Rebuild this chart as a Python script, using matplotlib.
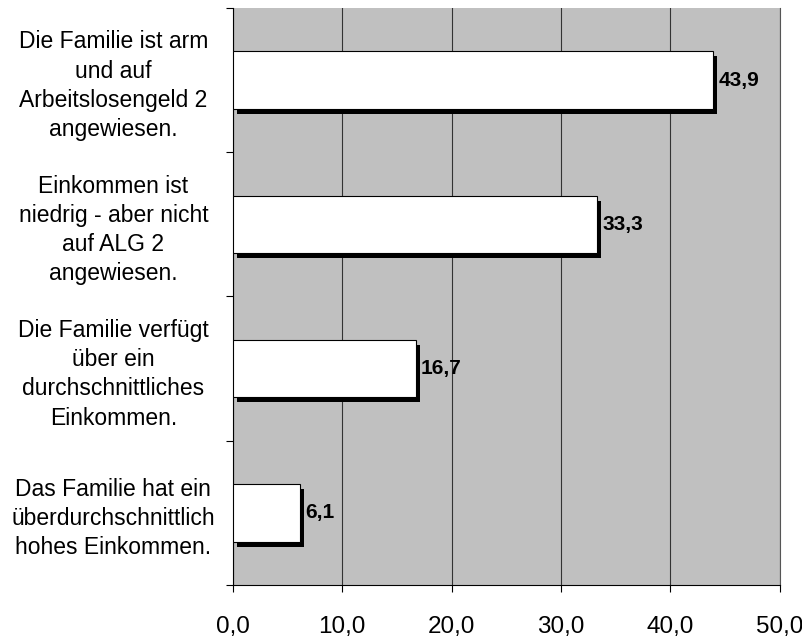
import numpy as np
import matplotlib
matplotlib.use('Agg')
import matplotlib.pyplot as plt
import matplotlib.transforms as mtransforms

# Daten
kategorien = [
    'Die Familie ist arm\nund auf\nArbeitslosengeld 2\nangewiesen.',
    'Einkommen ist\nniedrig - aber nicht\nauf ALG 2\nangewiesen.',
    'Die Familie verfügt\nüber ein\ndurchschnittliches\nEinkommen.',
    'Das Familie hat ein\nüberdurchschnittlich\nhohes Einkommen.',
]
werte = [43.9, 33.3, 16.7, 6.1]
xticks = [0, 10, 20, 30, 40, 50]

plt.rcParams['font.family'] = ['Liberation Sans', 'DejaVu Sans']

fig = plt.figure(figsize=(8.03, 6.39), dpi=100)
ax = fig.add_axes([0.290, 0.0845, 0.681, 0.903])
ax.set_facecolor('#c0c0c0')

y = np.arange(len(werte))[::-1]

# Schatten (nach rechts unten versetzt)
shadow_tr = ax.transData + mtransforms.ScaledTranslation(4 / 100, -5 / 100, fig.dpi_scale_trans)
ax.barh(y, werte, height=0.4, color='black', transform=shadow_tr, zorder=2)
ax.barh(y, werte, height=0.4, color='white', edgecolor='black', linewidth=0.8, zorder=3)

for yi, v in zip(y, werte):
    ax.text(v + 0.5, yi, f'{v:.1f}'.replace('.', ','), va='center', ha='left',
            fontsize=15, fontweight='bold', zorder=4)

ax.set_xlim(0, 50)
ax.set_ylim(-0.5, len(werte) - 0.5)
ax.set_xticks(xticks)
ax.set_xticklabels([f'{t:.1f}'.replace('.', ',') for t in xticks], fontsize=17.5)
ax.tick_params(axis='x', direction='out', length=5, width=0.8, pad=17)

ax.set_yticks(y)
ax.set_yticklabels(kategorien, fontsize=16.5, ha='center', multialignment='center',
                   linespacing=1.35)
ax.tick_params(axis='y', which='major', length=0, pad=86)
ax.set_yticks(np.arange(len(werte) + 1) - 0.5, minor=True)
ax.tick_params(axis='y', which='minor', direction='out', length=5, width=0.8)

ax.grid(axis='x', color='#333333', linewidth=0.8, zorder=1)
ax.set_axisbelow(True)
ax.spines['top'].set_visible(False)
ax.spines['right'].set_color('#555555')
ax.spines['right'].set_linewidth(0.8)
ax.spines['left'].set_linewidth(0.8)
ax.spines['bottom'].set_linewidth(0.8)

fig.savefig('out.png', dpi=100)
